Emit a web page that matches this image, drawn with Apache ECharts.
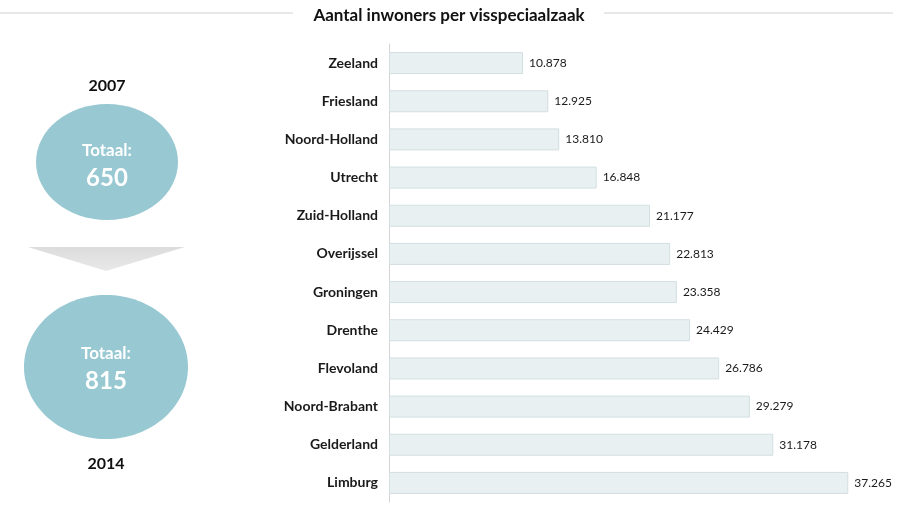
<!DOCTYPE html>
<html><head><meta charset="utf-8">
<script src="https://cdn.jsdelivr.net/npm/echarts@6/dist/echarts.min.js"></script>
<style>html,body{margin:0;padding:0;background:#fff}#c{width:900px;height:507px}</style>
</head><body><div id="c"></div>
<script>
const titleText = 'Aantal inwoners per visspeciaalzaak';
const provinces = ['Zeeland','Friesland','Noord-Holland','Utrecht','Zuid-Holland','Overijssel','Groningen','Drenthe','Flevoland','Noord-Brabant','Gelderland','Limburg'];
const inhabitants = [10878,12925,13810,16848,21177,22813,23358,24429,26786,29279,31178,37265];
const years = ['2007','2014'];
const totals = [650, 815];
const totalLabel = 'Totaal:';

const FONT = 'Lato, "Open Sans", sans-serif';
const fmt = v => String(v).replace(/\B(?=(\d{3})+(?!\d))/g, '.');
const ellColor = '#98c8d2';

const chart = echarts.init(document.getElementById('c'), null, {renderer:'canvas'});
chart.setOption({
  animation:false,
  grid:{left:389, right:18, top:44, bottom:5, containLabel:false},
  xAxis:{type:'value', min:0, max:40000, show:false},
  yAxis:{type:'category', data:provinces, inverse:true,
    axisLine:{show:true, lineStyle:{color:'#d4d4d4', width:1}},
    axisTick:{show:false},
    axisLabel:{margin:11, color:'#1a1a1a', fontFamily:FONT, fontWeight:'bold', fontSize:14, padding:[5,0,0,0]}
  },
  series:[{type:'bar', data:inhabitants, barWidth:22,
    itemStyle:{color:'#e8f0f2', borderColor:'#d3dfe2', borderWidth:1},
    label:{show:true, position:'right', distance:6, color:'#1a1a1a', fontFamily:FONT, fontSize:12, padding:[5,0,0,0],
      formatter:p=>fmt(p.value)}
  }],
  graphic:[
    {type:'line', shape:{x1:0,y1:13,x2:293,y2:13}, style:{stroke:'#d0d0d0', lineWidth:1}},
    {type:'line', shape:{x1:604,y1:13,x2:893,y2:13}, style:{stroke:'#d0d0d0', lineWidth:1}},
    {type:'text', x:449, y:16, style:{text:titleText, fill:'#111', font:'bold 17px '+FONT, align:'center', verticalAlign:'middle'}},
    {type:'text', x:107, y:86, style:{text:years[0], fill:'#111', font:'bold 16px '+FONT, align:'center', verticalAlign:'middle'}},
    {type:'ellipse', shape:{cx:107, cy:162, rx:71, ry:58}, style:{fill:ellColor}},
    {type:'text', x:107, y:151, style:{text:totalLabel, fill:'#fff', font:'bold 17px '+FONT, align:'center', verticalAlign:'middle'}},
    {type:'text', x:107, y:178, style:{text:String(totals[0]), fill:'#fff', font:'bold 24px '+FONT, align:'center', verticalAlign:'middle'}},
    {type:'polygon', shape:{points:[[28,247],[185,247],[106,271]]},
      style:{fill:new echarts.graphic.LinearGradient(0,0,0,1,[{offset:0,color:'#dcdcdc'},{offset:1,color:'#e9e9e9'}])}},
    {type:'ellipse', shape:{cx:106, cy:367, rx:82, ry:72}, style:{fill:ellColor}},
    {type:'text', x:106, y:354, style:{text:totalLabel, fill:'#fff', font:'bold 17px '+FONT, align:'center', verticalAlign:'middle'}},
    {type:'text', x:106, y:381, style:{text:String(totals[1]), fill:'#fff', font:'bold 24px '+FONT, align:'center', verticalAlign:'middle'}},
    {type:'text', x:106, y:464, style:{text:years[1], fill:'#111', font:'bold 16px '+FONT, align:'center', verticalAlign:'middle'}}
  ]
});
</script></body></html>
